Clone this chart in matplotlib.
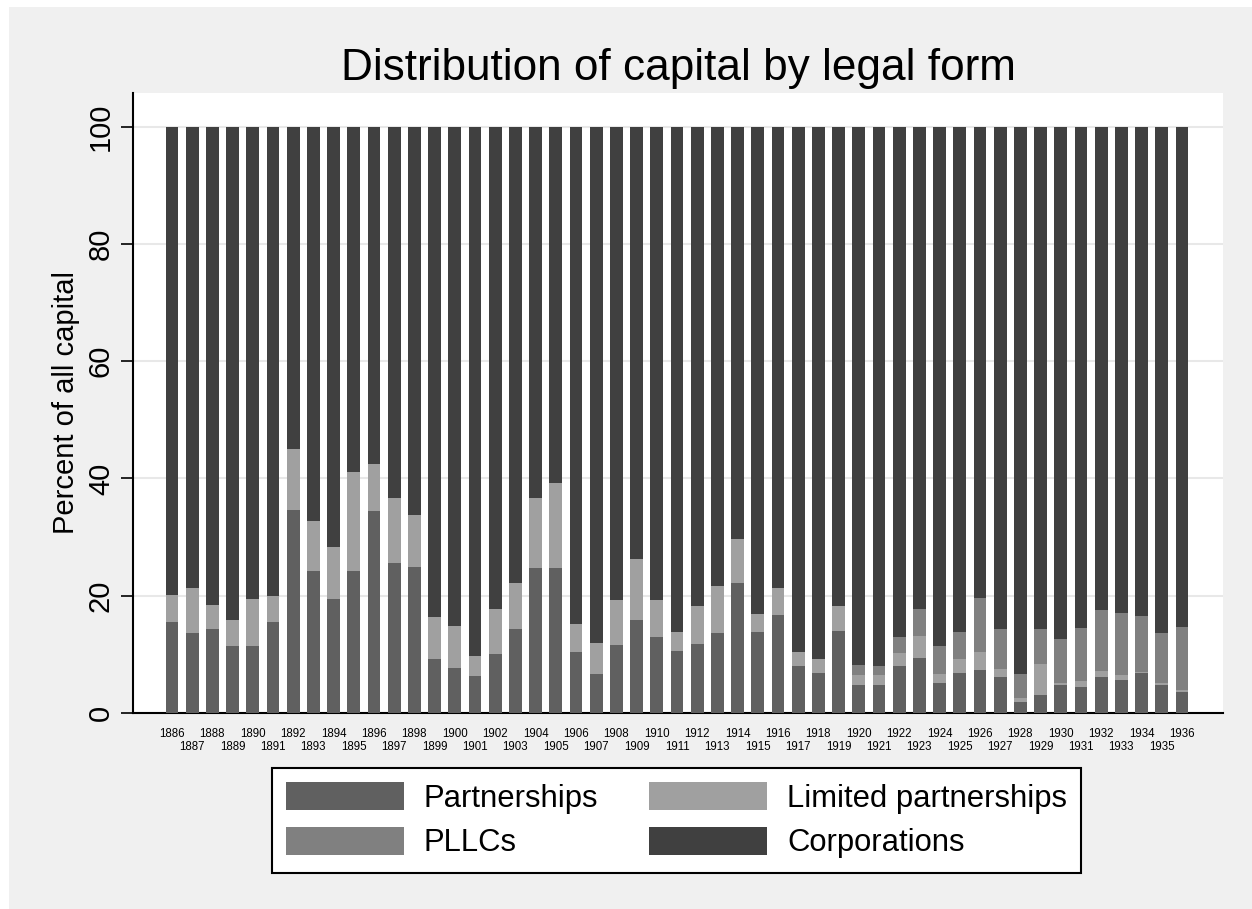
import matplotlib
matplotlib.use("Agg")
import matplotlib.pyplot as plt
from matplotlib.patches import Rectangle, Patch
import numpy as np

plt.rcParams['font.family'] = ['Liberation Sans', 'DejaVu Sans']

years = list(range(1886, 1937))
partnerships = [15.6, 13.6, 14.4, 11.4, 11.4, 15.6, 34.6, 24.2, 19.5, 24.2,
                34.4, 25.6, 24.9, 9.2, 7.6, 6.3, 10.0, 14.4, 24.8, 24.8,
                10.4, 6.6, 11.6, 15.9, 13.0, 10.6, 11.8, 13.6, 22.1, 13.8,
                16.7, 8.0, 6.9, 14.0, 4.7, 4.8, 8.0, 9.4, 5.1, 6.9,
                7.4, 6.1, 1.8, 3.1, 4.7, 4.5, 6.1, 5.6, 6.9, 4.7, 3.5]
limited_partnerships = [4.5, 7.7, 4.1, 4.5, 8.1, 4.3, 10.5, 8.6, 8.8, 16.9,
                        8.1, 11.0, 8.9, 7.1, 7.2, 3.5, 7.7, 7.7, 11.8, 14.5,
                        4.7, 5.4, 7.7, 10.4, 6.3, 3.2, 6.5, 8.1, 7.5, 3.1,
                        4.6, 2.4, 2.3, 4.3, 1.7, 1.6, 2.2, 3.7, 1.5, 2.3,
                        3.0, 1.4, 0.8, 5.3, 0.5, 1.0, 1.1, 0.8, 0.1, 0.4, 0.4]
pllcs = [0.0] * 34 + [1.8, 1.6, 2.8, 4.6, 4.8, 4.6, 9.2, 6.8,
                      4.0, 5.9, 7.4, 9.0, 10.3, 10.7, 9.5, 8.5, 10.8]
corporations = [100 - p - l - c for p, l, c in zip(partnerships, limited_partnerships, pllcs)]

series_names = ["Partnerships", "Limited partnerships", "PLLCs", "Corporations"]
colors = ["#606060", "#a0a0a0", "#808080", "#404040"]

W, H = 1252, 909
fig = plt.figure(figsize=(W / 100, H / 100), dpi=100, facecolor="white")
fig.patches.append(Rectangle((9 / W, 0), 1 - 9 / W, 1 - 7 / H, transform=fig.transFigure,
                             facecolor="#f0f0f0", edgecolor="none", zorder=-10))
ax = fig.add_axes([133 / W, 1 - 713 / H, (1223 - 133) / W, (713 - 93) / H])
ax.set_facecolor("white")

x = np.arange(len(years))
bottom = np.zeros(len(years))
handles = {}
for name, vals, col in zip(series_names,
                           [partnerships, limited_partnerships, pllcs, corporations],
                           colors):
    vals = np.array(vals)
    ax.bar(x, vals, width=0.64, bottom=bottom, color=col, edgecolor="none",
           label=name, zorder=3)
    handles[name] = Patch(facecolor=col, edgecolor="none")
    bottom = bottom + vals

ax.set_xlim(-1.93, 52.03)
ax.set_ylim(0, 105.75)
ax.set_yticks([0, 20, 40, 60, 80, 100])
ax.yaxis.grid(True, color="#e8e8e8", linewidth=1.5, zorder=0)
ax.set_axisbelow(True)

ax.set_xticks(x[::2])
ax.set_xticklabels([str(y) for y in years[::2]], fontsize=8.3)
ax.set_xticks(x[1::2], minor=True)
ax.set_xticklabels([str(y) for y in years[1::2]], minor=True, fontsize=8.3)
ax.tick_params(axis='x', which='major', length=0, pad=10.5)
ax.tick_params(axis='x', which='minor', length=0, pad=20.1)
ax.tick_params(axis='y', labelsize=21, labelrotation=90, length=9, width=1.2, pad=4)
for lab in ax.get_yticklabels():
    lab.set_verticalalignment('center')

for s in ["top", "right"]:
    ax.spines[s].set_visible(False)
for s in ["left", "bottom"]:
    ax.spines[s].set_linewidth(1.5)
    ax.spines[s].set_color("black")

ax.set_ylabel("Percent of all capital", fontsize=21, labelpad=5)
ax.set_title("Distribution of capital by legal form", fontsize=31.8, pad=9.4)

# column-major fill: rows read Partnerships | Limited partnerships, PLLCs | Corporations
order = ["Partnerships", "PLLCs", "Limited partnerships", "Corporations"]
leg = fig.legend([handles[n] for n in order], order, ncol=2, loc="upper center",
                 bbox_to_anchor=(676.5 / W, 1 - 768 / H), fontsize=22.3,
                 frameon=True, fancybox=False, shadow=False, edgecolor="black",
                 framealpha=1.0,
                 handlelength=3.8, handleheight=1.02, handletextpad=0.65,
                 columnspacing=1.64, labelspacing=0.41, borderpad=0.46,
                 borderaxespad=0)
leg.get_frame().set_linewidth(1.5)
leg.get_frame().set_facecolor("white")

fig.savefig("out.png", dpi=100, facecolor=fig.get_facecolor())
